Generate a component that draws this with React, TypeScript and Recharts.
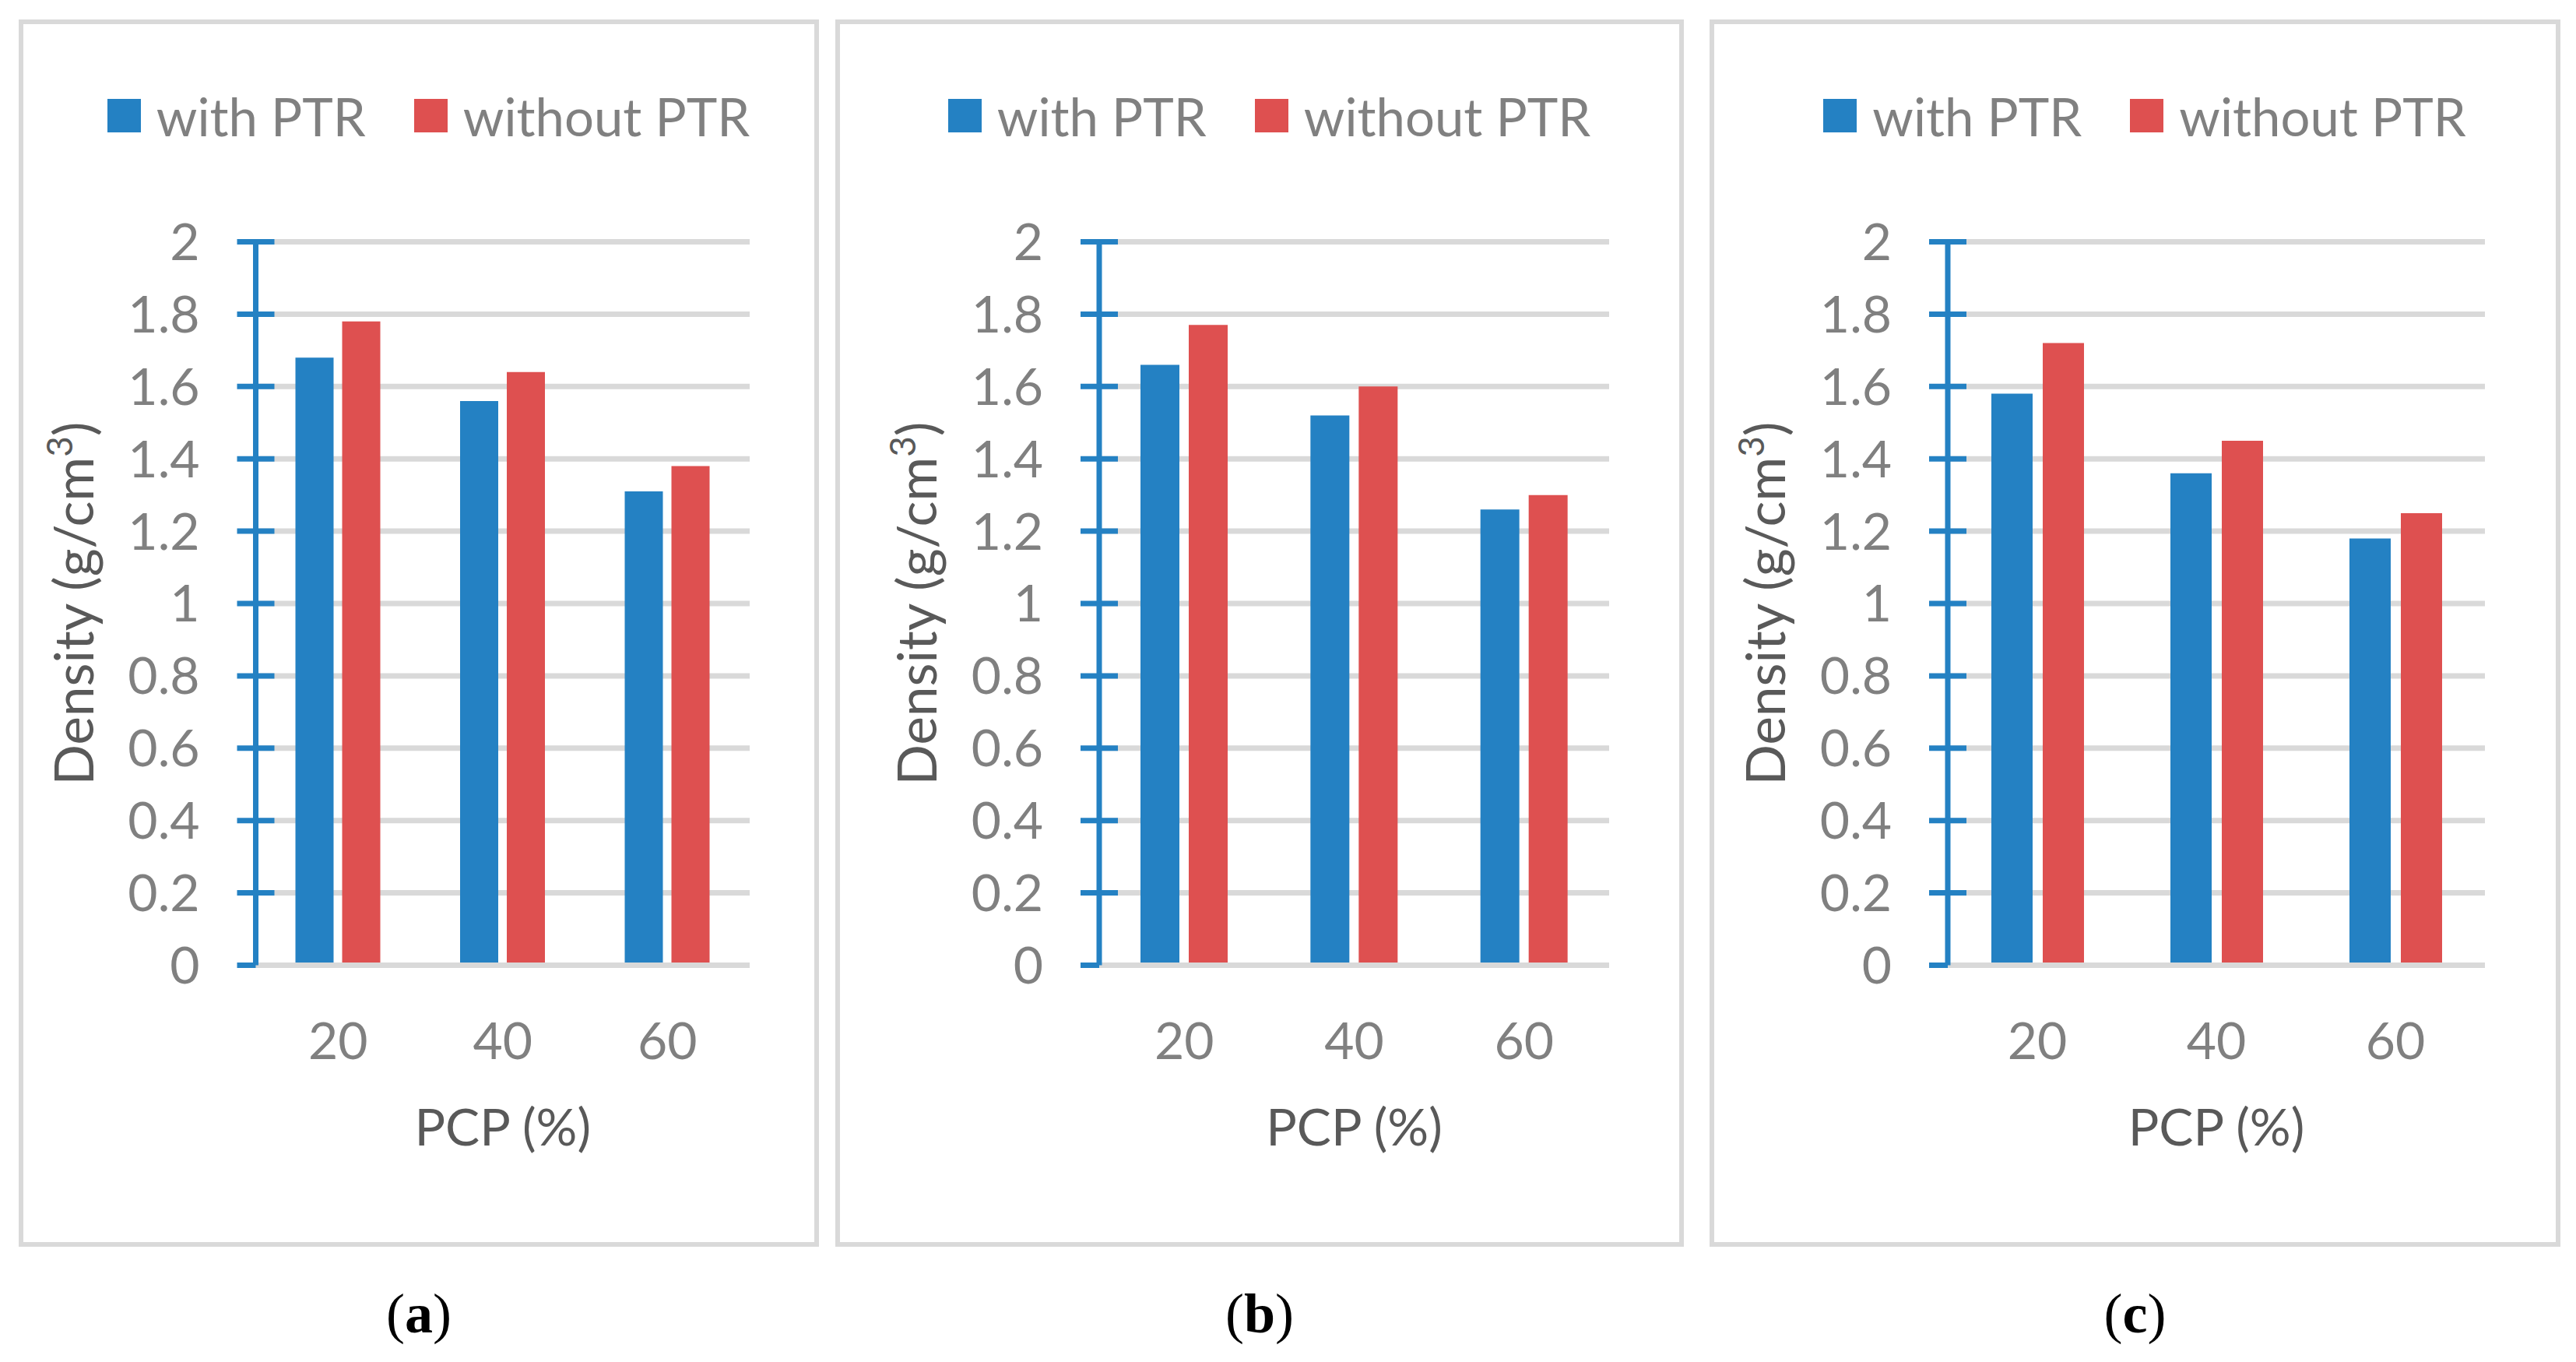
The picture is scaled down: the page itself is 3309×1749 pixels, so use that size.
import React from 'react'
import { BarChart, Bar, XAxis, YAxis, CartesianGrid, Legend } from 'recharts'

const categories = ['20', '40', '60']
const withPtrA = [1.68, 1.56, 1.31]
const withoutPtrA = [1.78, 1.64, 1.38]
const withPtrB = [1.66, 1.52, 1.26]
const withoutPtrB = [1.77, 1.6, 1.3]
const withPtrC = [1.58, 1.36, 1.18]
const withoutPtrC = [1.72, 1.45, 1.25]
const yTicks = [0, 0.2, 0.4, 0.6, 0.8, 1, 1.2, 1.4, 1.6, 1.8, 2]
const seriesNames = ['with PTR', 'without PTR']
const panelLetters = ['a', 'b', 'c']

const BLUE = '#2481c3'
const RED = '#de5050'
const GRID = '#d9d9d9'
const TICK_TEXT = '#808080'
const TITLE_TEXT = '#595959'
const FONT = 'Lato, "Open Sans", sans-serif'

const PANEL_TOP = 25
const PANEL_HEIGHT = 1576
const PLOT_TOP = 285.5
const PLOT_BOTTOM = 361.5

const layouts = [
  { left: 24, width: 1028, axisWidth: 304.5, right: 89, barSize: 49, barGap: 11 },
  { left: 1073, width: 1090, axisWidth: 339, right: 96, barSize: 50, barGap: 12 },
  { left: 2196, width: 1093, axisWidth: 306, right: 97, barSize: 53, barGap: 13 },
]

const seriesByPanel = [
  [withPtrA, withoutPtrA],
  [withPtrB, withoutPtrB],
  [withPtrC, withoutPtrC],
]

function buildRows(withPtr: number[], withoutPtr: number[]) {
  return categories.map((pcp, i) => ({ pcp, withPtr: withPtr[i], withoutPtr: withoutPtr[i] }))
}

function YTick(props: any) {
  const { x, y, payload } = props
  const ax = x + 72
  return (
    <g>
      <line
        x1={ax - 24}
        x2={payload.value === 0 ? ax : ax + 24}
        y1={y}
        y2={y}
        stroke={BLUE}
        strokeWidth={7}
      />
      <text
        x={x}
        y={y}
        dy="0.355em"
        textAnchor="end"
        fill={TICK_TEXT}
        fontSize={66}
        fontFamily={FONT}
      >
        {payload.value}
      </text>
    </g>
  )
}

function YTitle(props: any) {
  const vb = props.viewBox || {}
  const cx = vb.x + vb.width - 209
  const cy = vb.y + vb.height / 2
  return (
    <text
      x={cx}
      y={cy}
      transform={`rotate(-90, ${cx}, ${cy})`}
      textAnchor="middle"
      fill={TITLE_TEXT}
      fontSize={69}
      fontFamily={FONT}
    >
      Density (g/cm
      <tspan fontSize={46} dy={-27}>
        3
      </tspan>
      <tspan dy={27}>)</tspan>
    </text>
  )
}

function XTitle(props: any) {
  const vb = props.viewBox || {}
  return (
    <text
      x={vb.x + vb.width / 2}
      y={vb.y + 231.5}
      textAnchor="middle"
      fill={TITLE_TEXT}
      fontSize={66}
      fontFamily={FONT}
    >
      PCP (%)
    </text>
  )
}

function LegendBox() {
  const swatch = (color: string, extra: React.CSSProperties) => (
    <span
      style={{ display: 'inline-block', width: 43, height: 43, background: color, marginRight: 20, ...extra }}
    />
  )
  return (
    <div
      style={{
        display: 'flex',
        justifyContent: 'center',
        alignItems: 'center',
        paddingLeft: 25,
        height: 70,
        fontFamily: FONT,
        fontSize: 67,
        color: TICK_TEXT,
        whiteSpace: 'nowrap',
      }}
    >
      {swatch(BLUE, {})}
      <span>{seriesNames[0]}</span>
      {swatch(RED, { marginLeft: 62 })}
      <span>{seriesNames[1]}</span>
    </div>
  )
}

function Panel({ index }: { index: number }) {
  const lay = layouts[index]
  const [withPtr, withoutPtr] = seriesByPanel[index]
  const data = buildRows(withPtr, withoutPtr)
  return (
    <>
      <div
        style={{
          position: 'absolute',
          left: lay.left,
          top: PANEL_TOP,
          width: lay.width,
          height: PANEL_HEIGHT,
        }}
      >
        <BarChart
          width={lay.width}
          height={PANEL_HEIGHT}
          data={data}
          margin={{ top: PLOT_TOP, right: lay.right, bottom: 0, left: 0 }}
          barGap={lay.barGap}
        >
          <CartesianGrid vertical={false} stroke={GRID} strokeWidth={7} />
          <Bar dataKey="withPtr" name={seriesNames[0]} fill={BLUE} barSize={lay.barSize} isAnimationActive={false} />
          <Bar dataKey="withoutPtr" name={seriesNames[1]} fill={RED} barSize={lay.barSize} isAnimationActive={false} />
          <XAxis
            dataKey="pcp"
            height={PLOT_BOTTOM}
            tickSize={0}
            tickMargin={74}
            tickLine={false}
            axisLine={{ stroke: GRID, strokeWidth: 7 }}
            tick={{ fill: TICK_TEXT, fontSize: 66, fontFamily: FONT }}
            label={{ content: (p: any) => <XTitle {...p} /> }}
          />
          <YAxis
            width={lay.axisWidth}
            domain={[0, 2]}
            ticks={yTicks}
            interval={0}
            tickSize={24}
            tickMargin={48}
            tickLine={false}
            axisLine={{ stroke: BLUE, strokeWidth: 7 }}
            tick={(p: any) => <YTick {...p} />}
            label={{ content: (p: any) => <YTitle {...p} /> }}
          />
          <Legend
            verticalAlign="middle"
            align="center"
            wrapperStyle={{ top: 88.5, left: 0, width: lay.width, height: 70 }}
            content={() => <LegendBox />}
          />
        </BarChart>
      </div>
      <div
        style={{
          position: 'absolute',
          left: lay.left,
          top: PANEL_TOP,
          width: lay.width,
          height: PANEL_HEIGHT,
          boxSizing: 'border-box',
          border: `6px solid ${GRID}`,
          pointerEvents: 'none',
        }}
      />
      <div
        style={{
          position: 'absolute',
          left: lay.left,
          top: 1651,
          width: lay.width,
          textAlign: 'center',
          fontFamily: '"Liberation Serif", "Times New Roman", serif',
          fontSize: 72,
          lineHeight: '72px',
          color: '#000',
        }}
      >
        (<b>{panelLetters[index]}</b>)
      </div>
    </>
  )
}

export default function App() {
  return (
    <div
      style={{
        position: 'absolute',
        left: 0,
        top: 0,
        width: 3309,
        height: 1749,
        background: '#fff',
        overflow: 'hidden',
      }}
    >
      {layouts.map((_, i) => (
        <Panel key={i} index={i} />
      ))}
    </div>
  )
}
